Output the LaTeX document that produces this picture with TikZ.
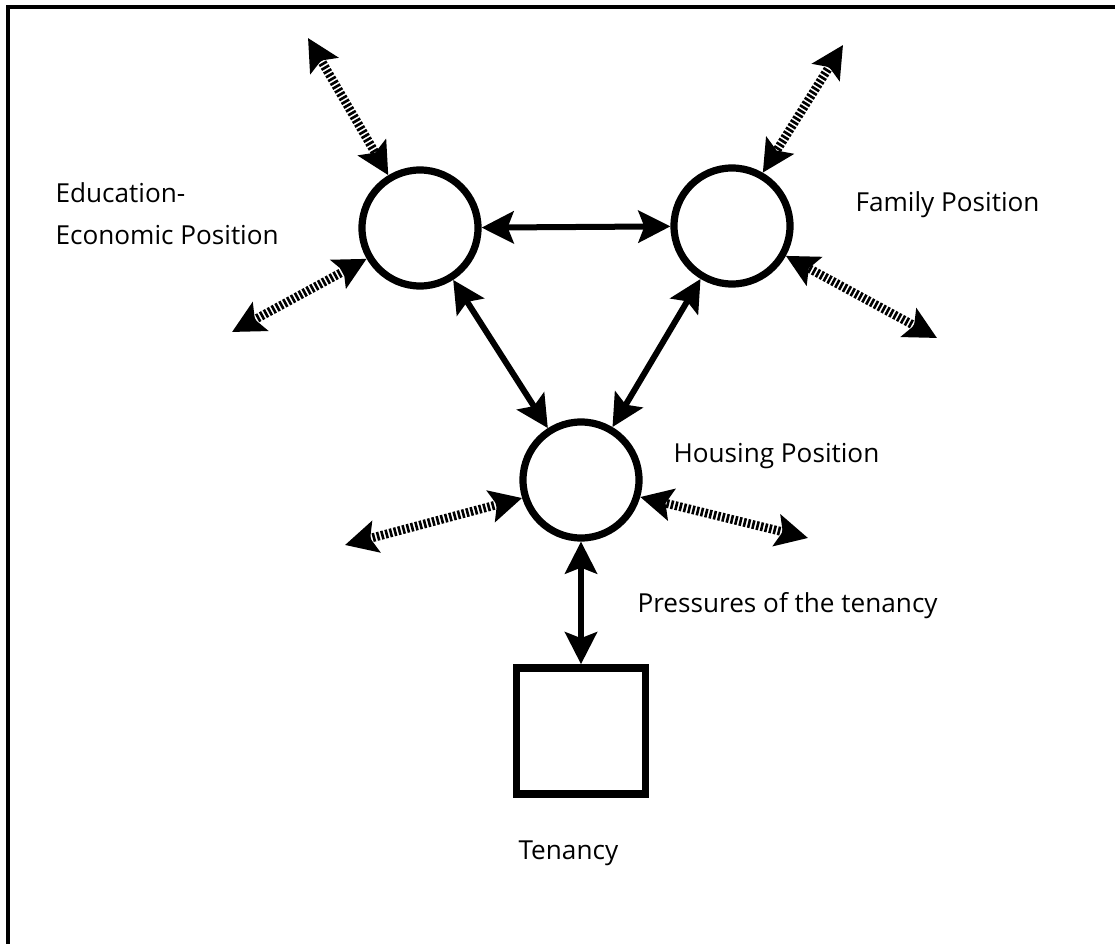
\documentclass[tikz,border=0pt]{standalone}
\usepackage{fontspec}
\setmainfont{Open Sans}
\usetikzlibrary{arrows.meta}

\begin{document}
\begin{tikzpicture}[x=0.025cm,y=-0.025cm,>={Stealth[length=0.8cm,width=0.8cm,inset=0.15cm]},thick]
\tikzset{PosStyle/.style = {draw,circle,line width=0.18cm,
                            minimum size=2.9cm,inner sep=0pt},
         TenStyle/.style = {draw,rectangle,line width=0.19cm,
                            minimum width=3.225cm,minimum height=3.15cm},
         LblStyle/.style = {anchor=base west,inner sep=0pt,
                            font=\fontsize{18.6}{22}\selectfont},
         Link/.style = {<->,line width=0.15cm},
         Pull/.style = {<->,line width=0.22cm,
                        dash pattern=on 0.065cm off 0.045cm}}
\useasboundingbox (0,0) rectangle (1115,944);
\draw[line width=0.1cm] (8,944) -- (8,7) -- (1115,7);
\node[PosStyle] (Edu) at (420,228) {};  \node[PosStyle] (Fam) at (732,226) {};
\node[PosStyle] (Hou) at (581,480) {};
\node[TenStyle] (Ten) at (581,731) {};
\coordinate (EduUp) at (308,38);    \coordinate (EduLow) at (232,332);
\coordinate (FamUp) at (843,45);    \coordinate (FamLow) at (937,338);
\coordinate (HouLeft) at (345,545); \coordinate (HouRight) at (808,538);
\draw[Link] (Edu) -- (Fam);
\draw[Link] (Edu) -- (Hou);
\draw[Link] (Fam) -- (Hou);
\draw[Link] (Hou) -- (Ten);
\draw[Pull] (EduUp) -- (Edu.121);   \draw[Pull] (EduLow) -- (Edu.210);
\draw[Pull] (FamUp) -- (Fam.60);    \draw[Pull] (FamLow) -- (Fam.331);
\draw[Pull] (HouLeft) -- (Hou.197); \draw[Pull] (HouRight) -- (Hou.344);
\node[LblStyle] (EduLbl) at (55,203) {Education-};
\node[LblStyle] (EcoLbl) at (55,245) {Economic Position};
\node[LblStyle] (FamLbl) at (855,212) {Family Position};
\node[LblStyle] (HouLbl) at (673,462) {Housing Position};
\node[LblStyle] (PreLbl) at (637,612) {Pressures of the tenancy};
\node[LblStyle] (TenLbl) at (518,859) {Tenancy};
\end{tikzpicture}
\end{document}
